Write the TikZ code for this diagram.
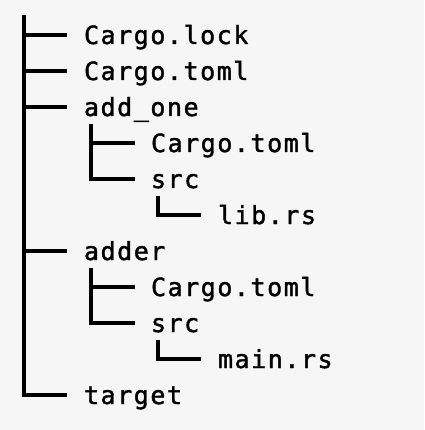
\documentclass[tikz,border=0pt]{standalone}
\usepackage{fontspec}
\newfontfamily\treemono[LetterSpace=6.2,FakeBold=1.6]{DejaVu Sans Mono}
\definecolor{bgc}{RGB}{246,246,246}
\definecolor{ink}{RGB}{0,0,0}
\tikzset{
  branch/.style={draw=ink, line width=3.4pt, line cap=butt, line join=miter},
  entry/.style={anchor=base west, inner sep=0pt, outer sep=0pt, text=ink,
    font=\treemono\fontsize{25}{30}\selectfont}
}
\begin{document}
\begin{tikzpicture}[x=1pt,y=-1pt]
\useasboundingbox[fill=bgc] (0,0) rectangle (424,430);
\node[entry] (lock)   at (84,44)  {Cargo.lock};
\node[entry] (toml)   at (84,80)  {Cargo.toml};
\node[entry] (addone) at (84,116) {add\_one};
\node[entry] (aotoml) at (151,152) {Cargo.toml};
\node[entry] (aosrc)  at (151,188) {src};
\node[entry] (librs)  at (218,224) {lib.rs};
\node[entry] (adder)  at (84,260) {adder};
\node[entry] (adtoml) at (151,296) {Cargo.toml};
\node[entry] (adsrc)  at (151,332) {src};
\node[entry] (mainrs) at (218,368) {main.rs};
\node[entry] (target) at (84,404) {target};
\coordinate (top) at (24,15);
\coordinate (e1) at (67,35);
\coordinate (e2) at (67,71);
\coordinate (e3) at (67,107);
\coordinate (e7) at (67,251);
\coordinate (e11) at (67,395);
\coordinate (aotop) at (91,124);
\coordinate (e4) at (135,143);
\coordinate (e5) at (135,179);
\coordinate (aosrctop) at (158,196);
\coordinate (e6) at (201,215);
\coordinate (adtop) at (91,268);
\coordinate (e8) at (135,287);
\coordinate (e9) at (135,323);
\coordinate (adsrctop) at (158,340);
\coordinate (e10) at (201,359);
\draw[branch] (top) |- (e11);
\draw[branch] (top |- e1) -- (e1);
\draw[branch] (top |- e2) -- (e2);
\draw[branch] (top |- e3) -- (e3);
\draw[branch] (top |- e7) -- (e7);
\draw[branch] (aotop) |- (e5);
\draw[branch] (aotop |- e4) -- (e4);
\draw[branch] (aosrctop) |- (e6);
\draw[branch] (adtop) |- (e9);
\draw[branch] (adtop |- e8) -- (e8);
\draw[branch] (adsrctop) |- (e10);
\end{tikzpicture}
\end{document}
